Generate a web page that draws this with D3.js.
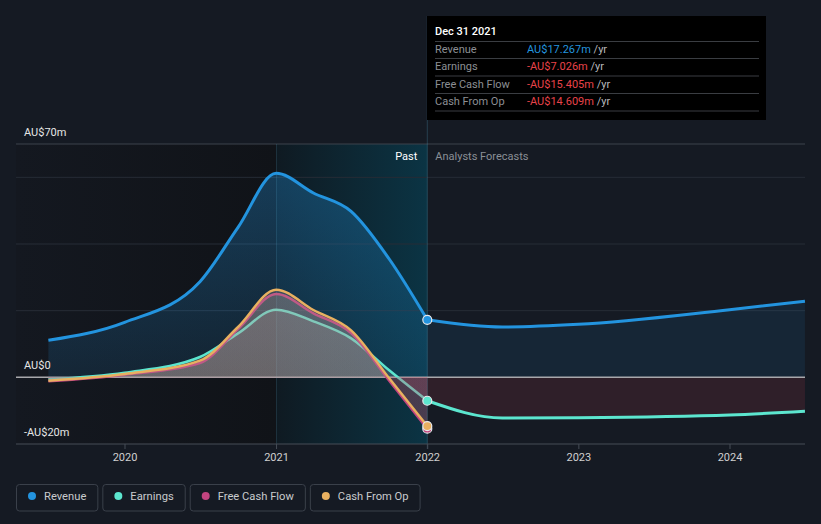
<!DOCTYPE html>
<html><head><meta charset="utf-8">
<script src="https://cdn.jsdelivr.net/npm/d3@7"></script>
<style>
html,body{margin:0;padding:0;background:#151a23;}
svg{display:block;font-family:Roboto, "Noto Sans", sans-serif;}
</style></head>
<body>
<svg id="chart" width="821" height="524"></svg>
<script>
// ---------- data ----------
const pastDates = ["2019-06-30","2019-12-31","2020-06-30","2020-09-30","2020-12-31","2021-03-31","2021-06-30","2021-09-30","2021-12-31"];
const revenuePast  = [11.1, 16.5, 28.7, 45.0, 61.2, 55.3, 49.8, 35.5, 17.267];
const earningsPast = [-0.6, 1.4, 6.1, 13.2, 20.3, 16.8, 11.7, 2.1, -7.026];
const fcfPast      = [-1.2, 0.8, 4.3, 14.5, 25.0, 19.2, 13.3, -1.0, -15.405];
const cfoPast      = [-1.0, 1.0, 5.0, 15.1, 26.3, 20.2, 14.1, -0.3, -14.609];

const fcstDates = ["2021-12-31","2022-06-30","2022-12-31","2023-12-31","2024-06-30"];
const revenueFcst  = [17.267, 15.1, 15.9, 20.3, 22.8];
const earningsFcst = [-7.026, -12.2, -12.1, -11.3, -10.2];

const yTickValues = [70, 0, -20];
const yTickLabels = ["AU$70m", "AU$0", "-AU$20m"];
const gridValues = [60, 40, 20];

const seriesNames = ["Revenue", "Earnings", "Free Cash Flow", "Cash From Op"];
const seriesColors = ["#2394df", "#5ce6cf", "#c2447f", "#e8b060"];

const tooltipDate = "Dec 31 2021";
const tooltipValues = ["AU$17.267m", "-AU$7.026m", "-AU$15.405m", "-AU$14.609m"];

// ---------- setup ----------
(function(){
const parse = d3.timeParse("%Y-%m-%d");
const W = 821, H = 524;
const pL = 16, pR = 805, pT = 144, pB = 444;
const svg = d3.select("#chart");

const x = d3.scaleTime().domain([new Date(2020,0,1), new Date(2024,0,1)]).range([125, 730]);
const y = d3.scaleLinear().domain([-20, 70]).range([pB, pT]);

const pastPts = s => pastDates.map((d,i)=>({d:parse(d), v:s[i]}));
const fcstPts = s => fcstDates.map((d,i)=>({d:parse(d), v:s[i]}));
const curve = d3.curveMonotoneX;
const line = d3.line().x(p=>x(p.d)).y(p=>y(p.v)).curve(curve);
const area = d3.area().x(p=>x(p.d)).y0(y(0)).y1(p=>y(p.v)).curve(curve);

const defs = svg.append("defs");
const xNow = x(parse("2021-12-31"));
const x2021 = x(new Date(2021,0,1));

// backgrounds
svg.append("rect").attr("width",W).attr("height",H).attr("fill","#151a23");
const gLeft = defs.append("linearGradient").attr("id","gLeft").attr("x1","0").attr("x2","1").attr("y1","0").attr("y2","0");
gLeft.append("stop").attr("offset","0").attr("stop-color","#141820");
gLeft.append("stop").attr("offset","1").attr("stop-color","#101318");
svg.append("rect").attr("x",pL).attr("y",pT).attr("width",x2021-pL).attr("height",pB-pT).attr("fill","url(#gLeft)");
const gPast = defs.append("linearGradient").attr("id","gPast").attr("x1","0").attr("x2","1").attr("y1","0").attr("y2","0");
gPast.append("stop").attr("offset","0").attr("stop-color","#0f1a22");
gPast.append("stop").attr("offset","1").attr("stop-color","#0b3444");
svg.append("rect").attr("x",x2021).attr("y",pT).attr("width",xNow-x2021).attr("height",pB-pT).attr("fill","url(#gPast)");

// gridlines
svg.append("line").attr("x1",pL).attr("x2",pR).attr("y1",y(70)).attr("y2",y(70)).attr("stroke","#3c424c").attr("stroke-width",1);
svg.selectAll(".grid").data(gridValues).enter().append("line")
  .attr("x1",pL).attr("x2",pR).attr("y1",d=>y(d)).attr("y2",d=>y(d))
  .attr("stroke","#262c36").attr("stroke-width",1);

// revenue areas
const gRev = defs.append("linearGradient").attr("id","gRev").attr("gradientUnits","userSpaceOnUse")
  .attr("x1",0).attr("x2",0).attr("y1",y(62)).attr("y2",y(0));
gRev.append("stop").attr("offset","0").attr("stop-color","#2394df").attr("stop-opacity",0.32);
gRev.append("stop").attr("offset","1").attr("stop-color","#2394df").attr("stop-opacity",0.12);
svg.append("path").attr("d",area(pastPts(revenuePast))).attr("fill","url(#gRev)");
svg.append("path").attr("d",area(fcstPts(revenueFcst))).attr("fill","#2394df").attr("fill-opacity",0.1);
// forecast earnings area
svg.append("path").attr("d",area(fcstPts(earningsFcst))).attr("fill","#c83c50").attr("fill-opacity",0.15);

// small-series past area gradient (gray above zero, red below)
const zOff = (y(0)-y(70))/(y(-20)-y(70));
const gSmall = defs.append("linearGradient").attr("id","gSmall").attr("gradientUnits","userSpaceOnUse")
  .attr("x1",0).attr("x2",0).attr("y1",y(70)).attr("y2",y(-20));
gSmall.append("stop").attr("offset",0).attr("stop-color","#b4a09c").attr("stop-opacity",0.28);
gSmall.append("stop").attr("offset",zOff).attr("stop-color","#b4a09c").attr("stop-opacity",0.22);
gSmall.append("stop").attr("offset",zOff).attr("stop-color","#c85068").attr("stop-opacity",0.18);
gSmall.append("stop").attr("offset",1).attr("stop-color","#c85068").attr("stop-opacity",0.18);

// vertical lines
svg.append("line").attr("x1",x2021).attr("x2",x2021).attr("y1",pT).attr("y2",pB+5).attr("stroke","#5ab4d2").attr("stroke-opacity",0.18);
svg.append("line").attr("x1",xNow).attr("x2",xNow).attr("y1",16).attr("y2",pB+5).attr("stroke","#5ab4d2").attr("stroke-opacity",0.25);

// zero line & bottom axis
svg.append("line").attr("x1",pL).attr("x2",pR).attr("y1",y(0)).attr("y2",y(0)).attr("stroke","#a8a8ac").attr("stroke-width",1.5);
svg.append("line").attr("x1",pL).attr("x2",pR).attr("y1",y(-20)).attr("y2",y(-20)).attr("stroke","#464c56").attr("stroke-width",1);

// revenue lines
svg.append("path").attr("d",line(pastPts(revenuePast))).attr("fill","none").attr("stroke",seriesColors[0]).attr("stroke-width",3);
svg.append("path").attr("d",line(fcstPts(revenueFcst))).attr("fill","none").attr("stroke",seriesColors[0]).attr("stroke-width",3);
// earnings forecast line
svg.append("path").attr("d",line(fcstPts(earningsFcst))).attr("fill","none").attr("stroke",seriesColors[1]).attr("stroke-width",3);

// small past series: area then line, stacked in order
[[earningsPast,1],[fcfPast,2],[cfoPast,3]].forEach(([s,ci])=>{
  svg.append("path").attr("d",area(pastPts(s))).attr("fill","url(#gSmall)");
  svg.append("path").attr("d",line(pastPts(s))).attr("fill","none").attr("stroke",seriesColors[ci]).attr("stroke-width",2.5);
});

// markers
const markerVals = [revenuePast[8], earningsPast[8], fcfPast[8], cfoPast[8]];
svg.selectAll(".mk").data(markerVals).enter().append("circle")
  .attr("cx",xNow).attr("cy",d=>y(d)).attr("r",4.5)
  .attr("fill",(d,i)=>seriesColors[i]).attr("stroke","#e8e8ea").attr("stroke-width",1.2);

// y labels
svg.selectAll(".yl").data(yTickValues).enter().append("text")
  .attr("x",24).attr("y",d=>y(d)-8).text((d,i)=>yTickLabels[i])
  .attr("fill","#e6e6e6").attr("font-size",11);

// x axis ticks & labels
const xt = x.ticks(d3.timeYear.every(1));
svg.selectAll(".xt").data(xt).enter().append("line")
  .attr("x1",d=>x(d)).attr("x2",d=>x(d)).attr("y1",pB).attr("y2",pB+5).attr("stroke","#464c56");
svg.selectAll(".xl").data(xt).enter().append("text")
  .attr("x",d=>x(d)).attr("y",pB+17).attr("text-anchor","middle")
  .attr("fill","#d0d0d0").attr("font-size",11).text(d3.timeFormat("%Y"));

// Past / forecast labels
svg.append("text").attr("x",xNow-10).attr("y",160).attr("text-anchor","end").attr("fill","#ffffff").attr("font-size",11).text("Past");
svg.append("text").attr("x",xNow+8).attr("y",160).attr("fill","#8a8f96").attr("font-size",11).text("Analysts Forecasts");

// tooltip
const tt = svg.append("g");
tt.append("rect").attr("x",427).attr("y",16).attr("width",339).attr("height",104).attr("fill","#000000");
tt.append("text").attr("x",435).attr("y",35).attr("fill","#ffffff").attr("font-size",11).attr("font-weight",500).text(tooltipDate);
const sepY = [41.5, 58.5, 76, 93.5, 111];
sepY.forEach(sy=>tt.append("line").attr("x1",435).attr("x2",759).attr("y1",sy).attr("y2",sy).attr("stroke","#3a3d42"));
const rowY = [52.5, 70, 87.5, 104.5];
seriesNames.forEach((n,i)=>{
  tt.append("text").attr("x",435).attr("y",rowY[i]).attr("fill","#8c8f94").attr("font-size",11).text(n);
  const t = tt.append("text").attr("x",527).attr("y",rowY[i]).attr("font-size",11);
  t.append("tspan").attr("fill", i===0 ? "#2394df" : "#e8434a").text(tooltipValues[i]);
  t.append("tspan").attr("fill","#b8b8bc").text(" /yr");
});

// legend
let lx = 16;
seriesNames.forEach((n,i)=>{
  const g = svg.append("g");
  const txt = g.append("text").attr("x",lx+28).attr("y",500).attr("fill","#c8cacd").attr("font-size",11.2).text(n);
  const w = txt.node().getComputedTextLength();
  const bw = 28 + w + 11;
  g.insert("rect","text").attr("x",lx+0.5).attr("y",484.5).attr("width",bw).attr("height",26.5).attr("rx",3)
    .attr("fill","none").attr("stroke","#3a404a");
  g.append("circle").attr("cx",lx+16).attr("cy",496).attr("r",4).attr("fill",seriesColors[i]);
  lx += bw + 5;
});
})();
</script>
</body></html>
